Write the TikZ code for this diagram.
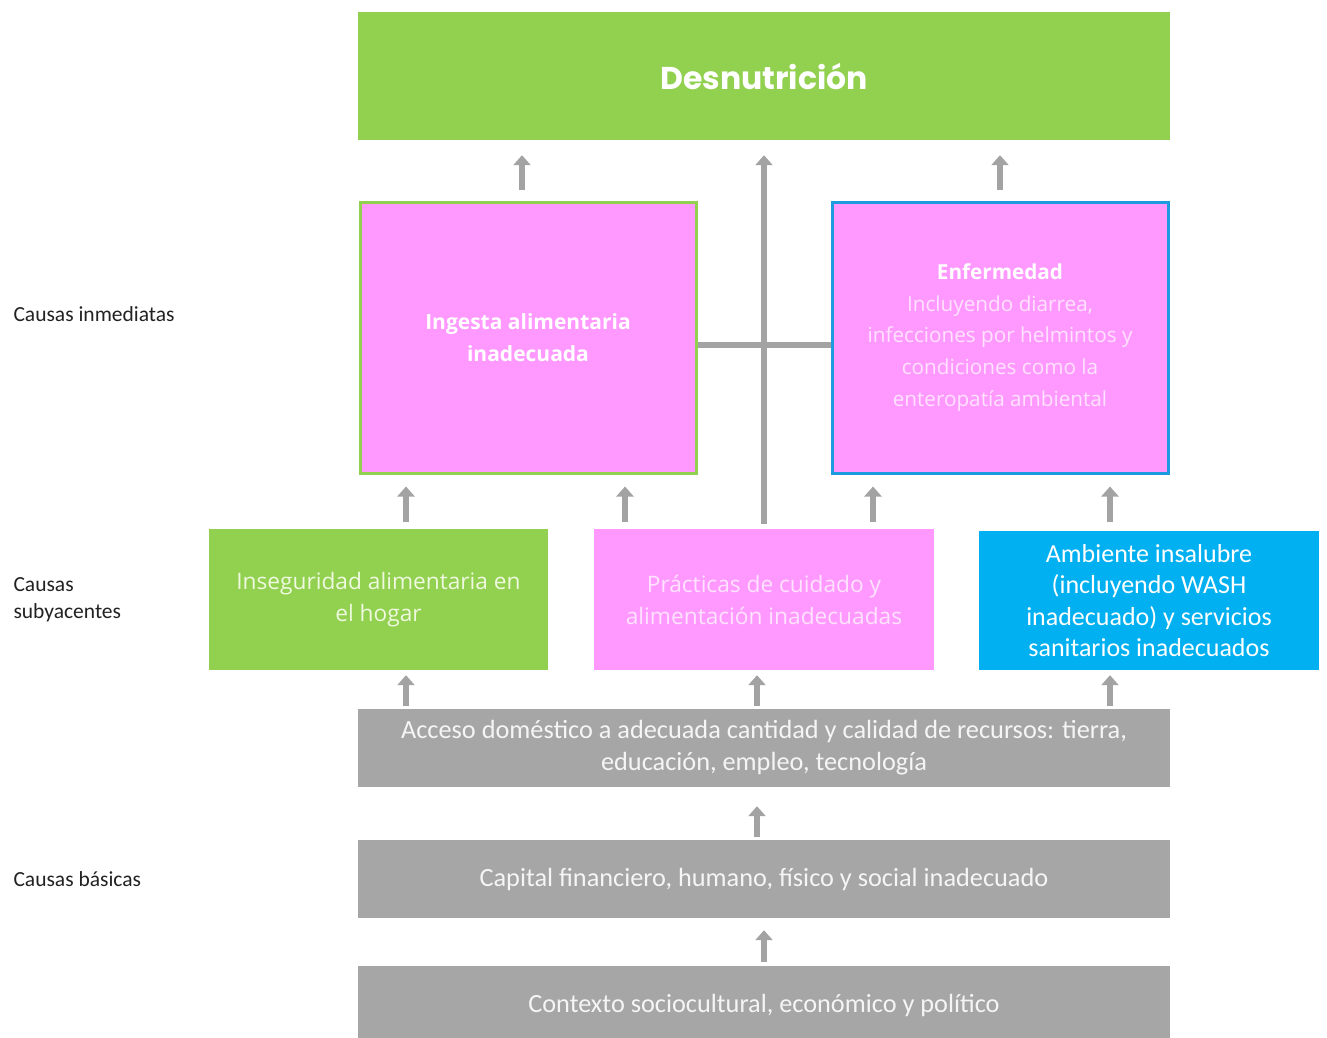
\documentclass[tikz,border=0pt]{standalone}
\usepackage{fontspec}
\setmainfont{Open Sans}
\newfontfamily\calfont{Carlito}
\newfontfamily\popfont{Poppins}
\usetikzlibrary{arrows.meta}
\definecolor{cgreen}{HTML}{92D050}
\definecolor{cpink}{HTML}{FF99FF}
\definecolor{cblue}{HTML}{00B0F0}
\definecolor{cbord}{HTML}{1E9BE0}
\definecolor{cgray}{HTML}{A6A6A6}
\definecolor{carrow}{HTML}{A3A3A3}
\definecolor{tgreen}{HTML}{EEF9DE}
\definecolor{tpink}{HTML}{FFE2FF}
\definecolor{tgray}{HTML}{F5F5F5}
\definecolor{tlabel}{HTML}{222222}
\tikzset{
  box/.style={rectangle, inner sep=0pt, align=center, draw=none},
  arr/.style={draw=carrow, line width=6.5pt, -{Triangle[width=17pt,length=10pt]}},
  bar/.style={draw=carrow, line width=6.5pt},
  lbl/.style={anchor=west, align=left, text=tlabel, font={\calfont\fontsize{21.5}{27}\selectfont}},
}
\begin{document}
\begin{tikzpicture}[x=1pt,y=-1pt]
\useasboundingbox[fill=white] (0,0) rectangle (1327,1037);
% nodes
\node[box, fill=cgreen, minimum width=812pt, minimum height=128pt, text=white,
  font={\popfont\bfseries\fontsize{31.5}{34}\selectfont}] (desn) at (764,76) {Desnutrición};
\node[box, fill=cpink, draw=cgreen, line width=3pt, minimum width=336pt, minimum height=271pt,
  text=white, font={\bfseries\fontsize{21}{32}\selectfont}] (ing) at (528,337.5) {Ingesta alimentaria\\inadecuada};
\node[box, fill=cpink, draw=cbord, line width=3pt, minimum width=336pt, minimum height=271pt,
  text=tpink, font={\fontsize{20.7}{31.8}\selectfont}] (enf) at (1000,337.5)
  {\textcolor{white}{\bfseries Enfermedad}\\Incluyendo diarrea,\\infecciones por helmintos y\\condiciones como la\\enteropatía ambiental};
\node[box, fill=cgreen, minimum width=339pt, minimum height=141pt, text=tgreen,
  font={\fontsize{22.7}{32}\selectfont}] (inseg) at (378.5,599.5) {Inseguridad alimentaria en\\el hogar};
\node[box, fill=cpink, minimum width=340pt, minimum height=141pt, text=tpink,
  font={\fontsize{22.7}{32}\selectfont}] (prac) at (764,599.5) {Prácticas de cuidado y\\alimentación inadecuadas};
\node[box, fill=cblue, minimum width=340pt, minimum height=139pt, text=white,
  font={\calfont\fontsize{26}{31.5}\selectfont}] (amb) at (1149,600.5) {Ambiente insalubre\\(incluyendo WASH\\inadecuado) y servicios\\sanitarios inadecuados};
\node[box, fill=cgray, minimum width=812pt, minimum height=78pt, text=tgray,
  font={\calfont\fontsize{26.3}{32}\selectfont}] (acc) at (764,748) {\raisebox{-3pt}{\begin{tabular}{@{}c@{}}Acceso doméstico a adecuada cantidad y calidad de recursos: tierra,\\ educación, empleo, tecnología\end{tabular}}};
\node[box, fill=cgray, minimum width=812pt, minimum height=78pt, text=tgray,
  font={\calfont\fontsize{26.3}{32}\selectfont}] (cap) at (764,879) {\raisebox{-2pt}{Capital financiero, humano, físico y social inadecuado}};
\node[box, fill=cgray, minimum width=812pt, minimum height=78pt, text=tgray,
  font={\calfont\fontsize{26.3}{32}\selectfont}] (ctx) at (764,1005) {\raisebox{-2pt}{Contexto sociocultural, económico y político}};
% labels
\node[lbl] (l1) at (10,314) {Causas inmediatas};
\node[lbl] (l2) at (10,600) {Causas\\subyacentes};
\node[lbl] (l3) at (10,879) {Causas básicas};
% connectors
\draw[arr, shorten <=11pt, shorten >=15pt] ([xshift=-6pt]ing.north) -- ([xshift=-6pt]ing.north |- desn.south);
\draw[arr, shorten <=11pt, shorten >=15pt] (enf.north) -- (enf.north |- desn.south);
\draw[arr, shorten <=5pt, shorten >=15pt] (prac.north) -- (desn.south);
\draw[bar] ([yshift=-7.5pt]ing.east) -- ([yshift=-7.5pt]enf.west);
\draw[arr, shorten <=7pt, shorten >=12pt] ([xshift=27.5pt]inseg.north) -- ([xshift=27.5pt]inseg.north |- ing.south);
\draw[arr, shorten <=7pt, shorten >=12pt] ([xshift=-139pt]prac.north) -- ([xshift=-139pt]prac.north |- ing.south);
\draw[arr, shorten <=7pt, shorten >=12pt] ([xshift=109pt]prac.north) -- ([xshift=109pt]prac.north |- enf.south);
\draw[arr, shorten <=9pt, shorten >=12pt] ([xshift=-39pt]amb.north) -- ([xshift=-39pt]amb.north |- enf.south);
\draw[arr, shorten <=3pt, shorten >=5pt] ([xshift=-358pt]acc.north) -- ([xshift=-358pt]acc.north |- inseg.south);
\draw[arr, shorten <=3pt, shorten >=5pt] ([xshift=-7pt]acc.north) -- ([xshift=-7pt]acc.north |- prac.south);
\draw[arr, shorten <=3pt, shorten >=5pt] ([xshift=346pt]acc.north) -- ([xshift=346pt]acc.north |- amb.south);
\draw[arr, shorten <=3pt, shorten >=19pt] ([xshift=-7pt]cap.north) -- ([xshift=-7pt]cap.north |- acc.south);
\draw[arr, shorten <=4pt, shorten >=12pt] (ctx.north) -- (cap.south);
\end{tikzpicture}
\end{document}
